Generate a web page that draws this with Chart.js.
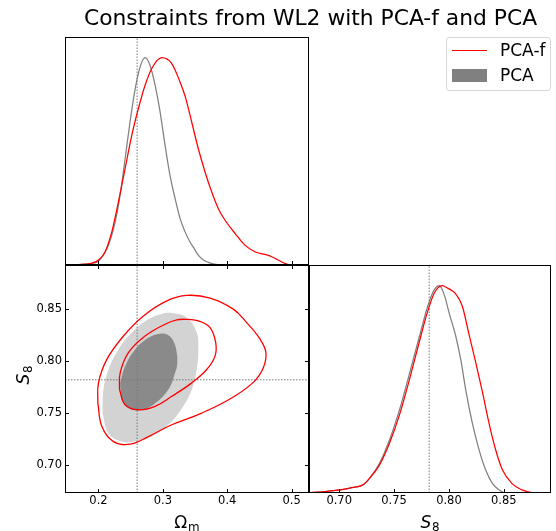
<!DOCTYPE html>
<html>
<head>
<meta charset="utf-8">
<script src="https://cdn.jsdelivr.net/npm/chart.js@4.4.0/dist/chart.umd.min.js"></script>
<style>
  html, body { margin: 0; padding: 0; background: #fff; }
  #wrap { position: relative; width: 556px; height: 531px; overflow: hidden; font-family: "DejaVu Sans", sans-serif; color: #000; }
  #wrap canvas { position: absolute; left: 0; top: 0; }
  #title { position: absolute; left: 0; top: 6.5px; width: 621px; text-align: center; font-size: 21.8px; line-height: 21.8px; white-space: nowrap; }
  #legend { position: absolute; left: 446px; top: 37px; width: 105px; height: 54px; box-sizing: border-box; border: 1px solid #d6d6d6; border-radius: 3px; background: rgba(255,255,255,0.8); }
  .lgtxt { position: absolute; left: 500px; font-size: 17px; line-height: 17px; white-space: nowrap; }
  #lgline { position: absolute; left: 452px; top: 50px; width: 35px; height: 1.4px; background: #ff0000; }
  #lgrect { position: absolute; left: 452px; top: 69px; width: 35px; height: 13px; background: #808080; }
</style>
</head>
<body>
<div id="wrap">
  <canvas id="cTop" width="556" height="531"></canvas>
  <canvas id="c2D" width="556" height="531"></canvas>
  <canvas id="cS8" width="556" height="531"></canvas>
  <div id="title">Constraints from WL2 with PCA-f and PCA</div>
  <div id="legend"></div>
  <div id="lgline"></div>
  <div class="lgtxt" style="top:42.3px">PCA-f</div>
  <div id="lgrect"></div>
  <div class="lgtxt" style="top:67.3px">PCA</div>
</div>
<script>
// ---------------- data ----------------
const seriesNames = ['PCA-f', 'PCA'];
const omLabel = ['Ω', 'm'];
const s8Label = ['S', '8'];
const omTicks = [0.2, 0.3, 0.4, 0.5];
const s8Ticks = [0.70, 0.75, 0.80, 0.85];
const omRange = [0.148, 0.527];
const s8Range = [0.6725, 0.893];
const densityRange = [0, 1.1];
const fiducialOm = 0.26;
const fiducialS8 = 0.782;

// 1D marginal of Omega_m
const omPCAfX = [0.148, 0.165, 0.18, 0.19, 0.2, 0.2104, 0.2208, 0.231, 0.2414, 0.2518, 0.262, 0.2724, 0.2828, 0.2983, 0.3138, 0.3267, 0.335, 0.3448, 0.355, 0.3654, 0.3758, 0.386, 0.3964, 0.412, 0.4274, 0.443, 0.4585, 0.469, 0.479, 0.4894, 0.497, 0.527];
const omPCAfY = [0, 0.001, 0.004, 0.009, 0.024, 0.064, 0.161, 0.305, 0.466, 0.627, 0.755, 0.867, 0.948, 1.0, 0.972, 0.883, 0.81, 0.69, 0.562, 0.45, 0.353, 0.273, 0.217, 0.153, 0.096, 0.064, 0.051, 0.04, 0.024, 0.008, 0, 0];
const omPCAX = [0.148, 0.165, 0.18, 0.19, 0.2, 0.2155, 0.226, 0.2336, 0.2414, 0.249, 0.257, 0.2647, 0.2724, 0.28, 0.288, 0.2957, 0.3034, 0.311, 0.319, 0.3267, 0.3344, 0.342, 0.3475, 0.355, 0.363, 0.3705, 0.378, 0.39, 0.527];
const omPCAY = [0, 0.001, 0.004, 0.008, 0.018, 0.096, 0.209, 0.337, 0.514, 0.69, 0.85, 0.956, 1.0, 0.964, 0.867, 0.739, 0.578, 0.434, 0.321, 0.225, 0.161, 0.112, 0.085, 0.048, 0.024, 0.013, 0.006, 0.001, 0];

// 1D marginal of S8
const s8PCAfX = [0.6725, 0.685, 0.6946, 0.7097, 0.7218, 0.7278, 0.7369, 0.7459, 0.755, 0.764, 0.7731, 0.7806, 0.7867, 0.7939, 0.7987, 0.8032, 0.8063, 0.8123, 0.8183, 0.8244, 0.8304, 0.8364, 0.8425, 0.8485, 0.8575, 0.8666, 0.8756, 0.893];
const s8PCAfY = [0.002, 0.006, 0.011, 0.024, 0.04, 0.072, 0.137, 0.241, 0.378, 0.547, 0.731, 0.876, 0.965, 1.0, 0.989, 0.975, 0.96, 0.9, 0.765, 0.63, 0.49, 0.34, 0.21, 0.115, 0.045, 0.015, 0.002, 0];
const s8PCAX = [0.6725, 0.685, 0.6946, 0.7097, 0.7218, 0.7278, 0.7369, 0.7459, 0.755, 0.764, 0.7731, 0.7806, 0.7867, 0.7912, 0.7957, 0.8002, 0.8063, 0.8108, 0.8153, 0.8213, 0.8274, 0.8334, 0.8394, 0.8455, 0.853, 0.893];
const s8PCAY = [0.002, 0.006, 0.011, 0.024, 0.04, 0.072, 0.145, 0.257, 0.402, 0.575, 0.755, 0.9, 0.981, 1.0, 0.957, 0.868, 0.755, 0.643, 0.498, 0.338, 0.209, 0.112, 0.048, 0.016, 0, 0];

// 2D contours (Omega_m, S8)
const cPCAf95Om = [0.199, 0.2, 0.213, 0.2388, 0.2698, 0.3061, 0.3371, 0.3733, 0.4094, 0.4302, 0.4508, 0.4601, 0.4559, 0.4404, 0.4069, 0.3604, 0.3139, 0.2776, 0.2492, 0.2233, 0.2053];
const cPCAf95S8 = [0.7596, 0.779, 0.8017, 0.8243, 0.8437, 0.8583, 0.8636, 0.861, 0.8503, 0.8373, 0.8215, 0.8082, 0.7935, 0.7795, 0.7644, 0.7498, 0.7385, 0.7271, 0.7197, 0.7222, 0.7368];
const cPCAf68Om = [0.2326, 0.2337, 0.2465, 0.2724, 0.3034, 0.3216, 0.3345, 0.3551, 0.3733, 0.3821, 0.381, 0.3681, 0.3449, 0.3139, 0.288, 0.262, 0.2414];
const cPCAf68S8 = [0.7725, 0.7887, 0.8082, 0.8243, 0.8357, 0.8399, 0.8405, 0.8389, 0.8325, 0.8179, 0.8049, 0.7919, 0.779, 0.766, 0.7563, 0.753, 0.7579];
const cPCA95Om = [0.2062, 0.2078, 0.2155, 0.231, 0.2518, 0.2776, 0.2983, 0.3163, 0.3371, 0.3526, 0.3551, 0.3526, 0.3449, 0.3318, 0.3112, 0.2828, 0.2569, 0.2363, 0.2155];
const cPCA95S8 = [0.7498, 0.7725, 0.7919, 0.8114, 0.8276, 0.8405, 0.8457, 0.8464, 0.8422, 0.8276, 0.8114, 0.7919, 0.7725, 0.7563, 0.7401, 0.7271, 0.7222, 0.7222, 0.7304];
const cPCA68Om = [0.2337, 0.2414, 0.2569, 0.2776, 0.2957, 0.3075, 0.3163, 0.3216, 0.3221, 0.319, 0.3086, 0.2853, 0.262, 0.2465, 0.2363];
const cPCA68S8 = [0.779, 0.7951, 0.8114, 0.8227, 0.8266, 0.8255, 0.8194, 0.808, 0.796, 0.7887, 0.7725, 0.7579, 0.7524, 0.7547, 0.7628];

// ---------------- helpers ----------------
const RED = '#ff0000', GRAY = '#808080', DARK = '#8a8a8a', LIGHT = '#d3d3d3', REF = '#7a7a7a';
const FONT = '"DejaVu Sans"';
const pts = (xs, ys) => xs.map((v, i) => ({x: v, y: ys[i]}));
const loop = (xs, ys) => { const p = pts(xs, ys); p.push({...p[0]}); return p; };

// axis label with a mathtext-like subscript
function mathLabel(ctx, x, y, parts, italic, rotate) {
  const size = 17, subSize = 11.9, drop = 2.8;
  const mf = (italic ? 'italic ' : '') + size + 'px ' + FONT;
  const sf = subSize + 'px ' + FONT;
  ctx.save();
  ctx.translate(x, y);
  if (rotate) ctx.rotate(-Math.PI / 2);
  ctx.fillStyle = '#000';
  ctx.textAlign = 'left';
  ctx.textBaseline = 'alphabetic';
  ctx.font = mf; const w1 = ctx.measureText(parts[0]).width;
  ctx.font = sf; const w2 = ctx.measureText(parts[1]).width;
  const gap = 0.8, start = -(w1 + gap + w2) / 2;
  ctx.font = mf; ctx.fillText(parts[0], start, 0);
  ctx.font = sf; ctx.fillText(parts[1], start + w1 + gap, drop);
  ctx.restore();
}

const frameTicks = {
  id: 'frameTicks',
  afterDraw(chart, args, opts) {
    const {ctx, chartArea: a} = chart;
    const L = Math.round(a.left) + 0.5, R = Math.round(a.right) - 0.5;
    const T = Math.round(a.top) + 0.5, B = Math.round(a.bottom) - 0.5;
    ctx.save();
    ctx.strokeStyle = '#000';
    ctx.lineWidth = 1;
    ctx.strokeRect(L, T, R - L, B - T);
    const len = 3.5;
    (opts.marks || []).forEach(m => {
      const s = chart.scales[m.scale];
      m.values.forEach(v => {
        const p = Math.round(s.getPixelForValue(v)) + 0.5;
        ctx.beginPath();
        if (m.side === 'bottom') { ctx.moveTo(p, B); ctx.lineTo(p, B - len); }
        if (m.side === 'top') { ctx.moveTo(p, T); ctx.lineTo(p, T + len); }
        if (m.side === 'left') { ctx.moveTo(L, p); ctx.lineTo(L + len, p); }
        if (m.side === 'right') { ctx.moveTo(R, p); ctx.lineTo(R - len, p); }
        ctx.stroke();
      });
    });
    ctx.restore();
    if (opts.xLabel) mathLabel(ctx, (a.left + a.right) / 2, chart.height - 3, opts.xLabel.parts, opts.xLabel.italic, false);
    if (opts.yLabel) mathLabel(ctx, 29, (a.top + a.bottom) / 2 - 4, opts.yLabel.parts, opts.yLabel.italic, true);
  }
};

function base(padding, marks, xLabel, yLabel) {
  return {
    responsive: false, animation: false, devicePixelRatio: 1, events: [],
    layout: {padding},
    plugins: {legend: {display: false}, tooltip: {enabled: false}, frameTicks: {marks, xLabel, yLabel}},
    elements: {point: {radius: 0}}
  };
}
const curve = (data, color) => ({data, borderColor: color, borderWidth: 1.25, fill: false, cubicInterpolationMode: 'monotone', pointRadius: 0});
const refLine = data => ({data, borderColor: REF, borderWidth: 1, borderDash: [1.5, 1.5], fill: false, tension: 0, pointRadius: 0});
const contourLine = data => ({data, borderColor: RED, borderWidth: 1.3, fill: false, tension: 0.4, pointRadius: 0});
const contourFill = (data, color) => ({data, borderColor: 'rgba(0,0,0,0)', borderWidth: 0, backgroundColor: color, fill: 'shape', tension: 0.4, pointRadius: 0});
const tickFont = {family: 'DejaVu Sans', size: 11.5};
const fixTicks = vals => s => { s.ticks = vals.map(v => ({value: v})); };
const hidden = (min, max) => ({type: 'linear', display: false, min, max});
const xAxis = (range, ticks, digits) => ({
  type: 'linear', min: range[0], max: range[1],
  afterBuildTicks: fixTicks(ticks),
  afterFit: s => { s.height = 38; s.paddingLeft = 0; s.paddingRight = 0; },
  grid: {display: false, drawTicks: false}, border: {display: false},
  ticks: {padding: 1, color: '#000', font: tickFont, maxRotation: 0, autoSkip: false, callback: v => Number(v).toFixed(digits)},
  title: {display: false}
});

// ---------------- top-left: Omega_m marginal ----------------
{
  const o = base({left: 65, top: 37, right: 247, bottom: 266}, [{scale: 'x', side: 'bottom', values: omTicks}]);
  o.scales = {x: hidden(omRange[0], omRange[1]), y: hidden(densityRange[0], densityRange[1])};
  new Chart(document.getElementById('cTop'), {
    type: 'line',
    data: {datasets: [
      {label: seriesNames[0], ...curve(pts(omPCAfX, omPCAfY), RED)},
      {label: seriesNames[1], ...curve(pts(omPCAX, omPCAY), GRAY)},
      refLine([{x: fiducialOm, y: densityRange[0]}, {x: fiducialOm, y: densityRange[1]}])
    ]},
    options: o,
    plugins: [frameTicks]
  });
}

// ---------------- bottom-left: 2D contours ----------------
{
  const o = base({left: 0, top: 265, right: 247, bottom: 0}, [
    {scale: 'x', side: 'bottom', values: omTicks},
    {scale: 'x', side: 'top', values: omTicks},
    {scale: 'y', side: 'left', values: s8Ticks},
    {scale: 'y', side: 'right', values: s8Ticks}
  ], {parts: omLabel, italic: false}, {parts: s8Label, italic: true});
  o.scales = {
    x: xAxis(omRange, omTicks, 1),
    y: {
      type: 'linear', min: s8Range[0], max: s8Range[1],
      afterBuildTicks: fixTicks(s8Ticks),
      afterFit: s => { s.width = 65; s.paddingTop = 0; s.paddingBottom = 0; },
      grid: {display: false, drawTicks: false}, border: {display: false},
      ticks: {padding: 3, color: '#000', font: tickFont, autoSkip: false, callback: v => Number(v).toFixed(2)},
      title: {display: false}
    }
  };
  new Chart(document.getElementById('c2D'), {
    type: 'line',
    data: {datasets: [
      {label: seriesNames[0] + ' 95%', ...contourLine(loop(cPCAf95Om, cPCAf95S8))},
      {label: seriesNames[0] + ' 68%', ...contourLine(loop(cPCAf68Om, cPCAf68S8))},
      refLine([{x: fiducialOm, y: s8Range[0]}, {x: fiducialOm, y: s8Range[1]}]),
      refLine([{x: omRange[0], y: fiducialS8}, {x: omRange[1], y: fiducialS8}]),
      {label: seriesNames[1] + ' 68%', ...contourFill(loop(cPCA68Om, cPCA68S8), DARK)},
      {label: seriesNames[1] + ' 95%', ...contourFill(loop(cPCA95Om, cPCA95S8), LIGHT)}
    ]},
    options: o,
    plugins: [frameTicks]
  });
}

// ---------------- bottom-right: S8 marginal ----------------
{
  const o = base({left: 309, top: 265, right: 5, bottom: 0}, [{scale: 'x', side: 'bottom', values: s8Ticks}],
    {parts: s8Label, italic: true}, null);
  o.scales = {x: xAxis(s8Range, s8Ticks, 2), y: hidden(densityRange[0], densityRange[1])};
  new Chart(document.getElementById('cS8'), {
    type: 'line',
    data: {datasets: [
      {label: seriesNames[0], ...curve(pts(s8PCAfX, s8PCAfY), RED)},
      {label: seriesNames[1], ...curve(pts(s8PCAX, s8PCAY), GRAY)},
      refLine([{x: fiducialS8, y: densityRange[0]}, {x: fiducialS8, y: densityRange[1]}])
    ]},
    options: o,
    plugins: [frameTicks]
  });
}
</script>
</body>
</html>
